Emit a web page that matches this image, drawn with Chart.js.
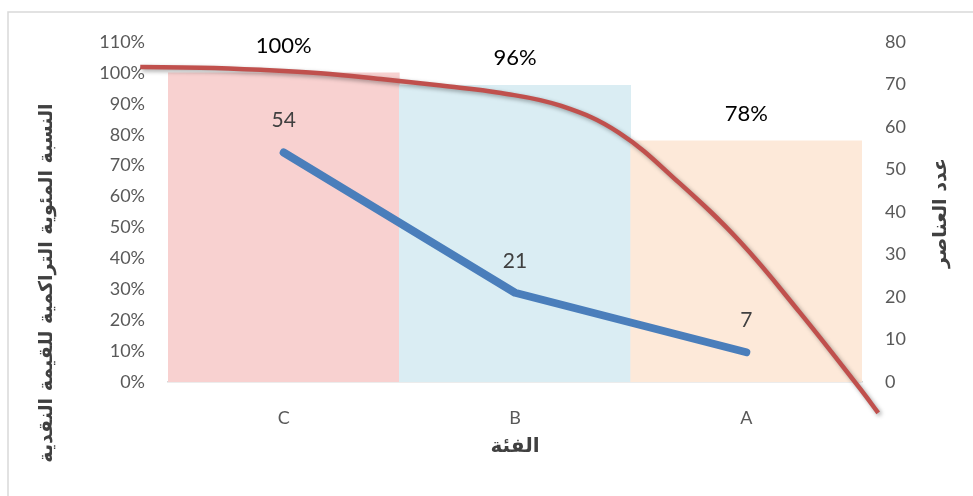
<!DOCTYPE html>
<html>
<head>
<meta charset="utf-8">
<script src="https://cdn.jsdelivr.net/npm/chart.js@4/dist/chart.umd.min.js"></script>
<style>
  html, body { margin: 0; padding: 0; background: #ffffff; }
  canvas { display: block; }
</style>
</head>
<body>
<canvas id="pareto" width="973" height="496"></canvas>
<script>
// Categories and series
const categories = ['C', 'B', 'A'];
const cumulativePct = [100, 96, 78];          // bars, left axis (%)
const itemCounts = [54, 21, 7];               // blue line, right axis
const barColors = ['#f8d1d0', '#daedf3', '#fde9d9'];

// Red smoothed curve, given in category units (C = 0, B = 1, A = 2) and percent
const curvePos = [-0.62, -0.36, -0.10, 0.16, 0.42, 0.68, 0.94, 1.20, 1.45, 1.71, 1.97, 2.23, 2.49, 2.57];
const curvePct = [101.9, 101.7, 101.0, 99.9, 98.0, 95.9, 93.5, 89.3, 80.6, 64.4, 45.6, 22.6, -2.0, -10.0];

// Axis ticks
const pctTicks = { min: 0, max: 110, step: 10 };
const countTicks = { min: 0, max: 80, step: 10 };

// Axis titles
const leftTitle = 'النسبة المئوية التراكمية للقيمة النقدية';
const rightTitle = 'عدد العناصر';
const bottomTitle = 'الفئة';

const tickFont = { family: 'Lato, "Open Sans", sans-serif', size: 18 };
const tickColor = '#595959';

const framePlugin = {
  id: 'frame',
  beforeDraw(chart) {
    const ctx = chart.ctx;
    ctx.save();
    ctx.fillStyle = '#ffffff';
    ctx.fillRect(0, 0, chart.width, chart.height);
    ctx.strokeStyle = '#d9d9d9';
    ctx.lineWidth = 1.5;
    ctx.beginPath();
    ctx.moveTo(8, chart.height);
    ctx.lineTo(8, 12);
    ctx.lineTo(chart.width, 12);
    ctx.stroke();
    ctx.restore();
  }
};

const shadowPlugin = {
  id: 'curveShadow',
  beforeDatasetDraw(chart, args) {
    if (chart.data.datasets[args.index].id === 'curve') {
      const ctx = chart.ctx;
      ctx.save();
      ctx.shadowColor = 'rgba(0,0,0,0.35)';
      ctx.shadowBlur = 4;
      ctx.shadowOffsetX = 2;
      ctx.shadowOffsetY = 2;
    }
  },
  afterDatasetDraw(chart, args) {
    if (chart.data.datasets[args.index].id === 'curve') {
      chart.ctx.restore();
    }
  }
};

const labelPlugin = {
  id: 'valueLabels',
  afterDatasetsDraw(chart) {
    const ctx = chart.ctx;
    ctx.save();
    ctx.textAlign = 'center';
    ctx.textBaseline = 'middle';
    const bars = chart.getDatasetMeta(0).data;
    ctx.fillStyle = '#000000';
    ctx.font = '22px Lato, "Open Sans", sans-serif';
    bars.forEach((el, i) => {
      ctx.fillText(cumulativePct[i] + '%', el.x, el.y - 27);
    });
    const pts = chart.getDatasetMeta(2).data;
    ctx.fillStyle = '#404040';
    ctx.font = '21px Lato, "Open Sans", sans-serif';
    pts.forEach((el, i) => {
      ctx.fillText(String(itemCounts[i]), el.x, el.y - 32);
    });
    ctx.restore();
  }
};

const titlePlugin = {
  id: 'axisTitles',
  afterDraw(chart) {
    const ctx = chart.ctx;
    const area = chart.chartArea;
    ctx.save();
    ctx.fillStyle = '#404040';
    ctx.textAlign = 'center';
    ctx.textBaseline = 'middle';
    ctx.font = 'bold 19px "DejaVu Sans", sans-serif';
    // left title, rotated to read upward
    ctx.save();
    ctx.translate(47, 283);
    ctx.rotate(-Math.PI / 2);
    ctx.fillText(leftTitle, 0, 0);
    ctx.restore();
    // right title
    ctx.save();
    ctx.translate(941, 213);
    ctx.rotate(-Math.PI / 2);
    ctx.fillText(rightTitle, 0, 0);
    ctx.restore();
    // bottom title
    ctx.font = 'bold 20px "DejaVu Sans", sans-serif';
    ctx.fillText(bottomTitle, (area.left + area.right) / 2, 447);
    ctx.restore();
  }
};

new Chart(document.getElementById('pareto'), {
  data: {
    labels: categories,
    datasets: [
      {
        type: 'bar',
        data: cumulativePct,
        backgroundColor: barColors,
        borderWidth: 0,
        barPercentage: 1,
        categoryPercentage: 1,
        grouped: false,
        xAxisID: 'x',
        yAxisID: 'y',
        order: 2
      },
      {
        id: 'curve',
        type: 'line',
        data: curvePos.map((x, i) => ({ x: x, y: curvePct[i] })),
        borderColor: '#c0504d',
        borderWidth: 4.5,
        pointRadius: 0,
        tension: 0.4,
        borderCapStyle: 'butt',
        clip: false,
        xAxisID: 'xc',
        yAxisID: 'y',
        order: 1
      },
      {
        type: 'line',
        data: itemCounts,
        borderColor: '#4a7ebb',
        borderWidth: 8,
        pointRadius: 0,
        tension: 0,
        borderCapStyle: 'round',
        borderJoinStyle: 'round',
        xAxisID: 'x',
        yAxisID: 'y1',
        order: 0
      }
    ]
  },
  options: {
    responsive: false,
    devicePixelRatio: 1,
    animation: false,
    layout: { padding: { top: 42, left: 0, right: 0, bottom: 0 } },
    plugins: { legend: { display: false }, tooltip: { enabled: false } },
    scales: {
      x: {
        type: 'category',
        position: 'bottom',
        offset: true,
        grid: { display: false, drawTicks: false },
        border: { display: true, color: '#d9d9d9', width: 1.5 },
        ticks: { color: tickColor, font: tickFont, padding: 25 },
        afterFit(s) { s.height = 114; }
      },
      xc: {
        type: 'linear',
        display: false,
        min: -0.5,
        max: 2.5
      },
      y: {
        position: 'left',
        min: pctTicks.min,
        max: pctTicks.max,
        grid: { display: false, drawTicks: false },
        border: { display: false },
        ticks: {
          stepSize: pctTicks.step,
          color: tickColor,
          font: tickFont,
          padding: 23,
          callback: (v) => v + '%'
        },
        afterFit(s) { s.width = 168; }
      },
      y1: {
        position: 'right',
        min: countTicks.min,
        max: countTicks.max,
        grid: { display: false, drawTicks: false },
        border: { display: false },
        ticks: { stepSize: countTicks.step, color: tickColor, font: tickFont, padding: 23 },
        afterFit(s) { s.width = 111; }
      }
    }
  },
  plugins: [framePlugin, shadowPlugin, labelPlugin, titlePlugin]
});
</script>
</body>
</html>
